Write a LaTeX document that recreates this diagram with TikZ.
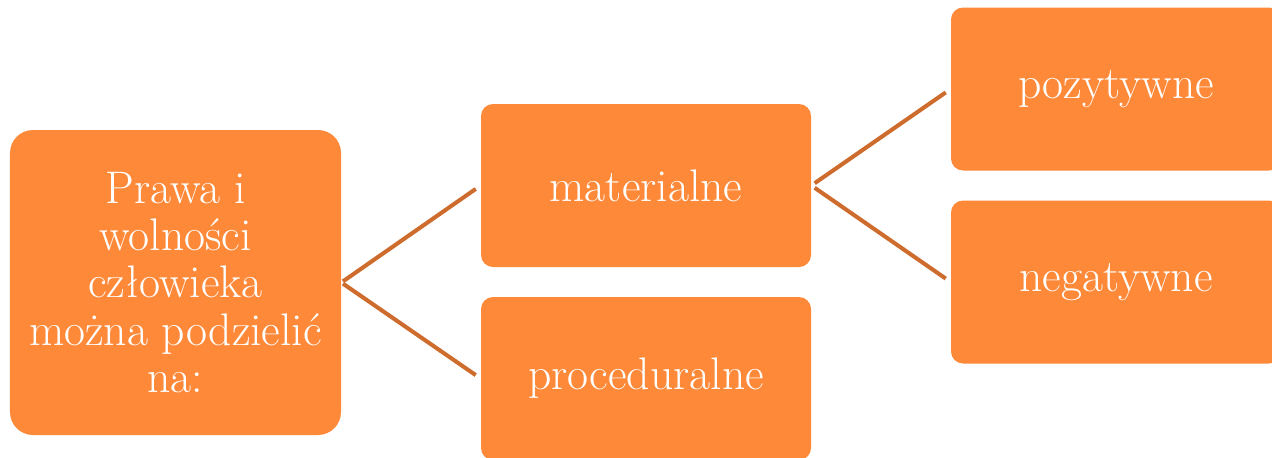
\documentclass[tikz,border=0pt]{standalone}
\usepackage{tikz}
\usetikzlibrary{positioning}
\definecolor{boxorange}{RGB}{253,137,57}
\definecolor{linkorange}{RGB}{206,108,45}

\begin{document}
\begin{tikzpicture}[
    box/.style={fill=boxorange, text=white, rounded corners=0.24cm, align=center,
        minimum width=6.6cm, minimum height=3.26cm, inner sep=0pt,
        font=\fontsize{26}{26.8}\selectfont},
    link/.style={draw=linkorange, line width=2.3pt}
  ]
    \useasboundingbox (0,0) rectangle (25.44,9.14);
    \clip (0,0) rectangle (25.44,9.14);

    % Root
    \node[box, minimum width=6.62cm, minimum height=6.1cm, rounded corners=0.46cm]
        (root) at (3.51,3.49) {Prawa i\\wolności\\człowieka\\można podzielić\\na:};

    % First level
    \node[box] (mat) at (12.92,5.43) {materialne};
    \node[box] (proc) at (12.92,1.57) {proceduralne};

    % Second level
    \node[box] (poz) at (22.32,7.36) {pozytywne};
    \node[box] (neg) at (22.32,3.50) {negatywne};

    % Links
    \draw[link, shorten <=0.04cm, shorten >=0.12cm] (root.east) -- (mat.west);
    \draw[link, shorten <=0.04cm, shorten >=0.12cm] (root.east) -- (proc.west);
    \draw[link, shorten <=0.08cm, shorten >=0.12cm] (mat.east) -- (poz.west);
    \draw[link, shorten <=0.08cm, shorten >=0.12cm] (mat.east) -- (neg.west);
\end{tikzpicture}
\end{document}
